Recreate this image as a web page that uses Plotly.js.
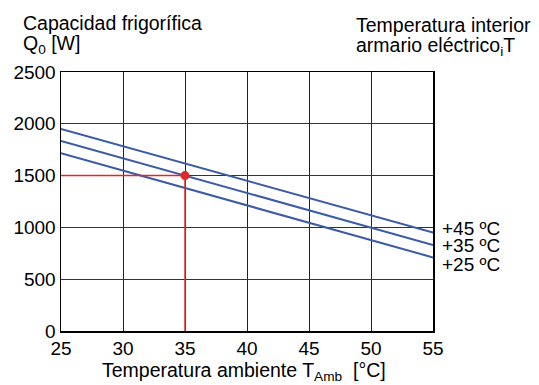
<!DOCTYPE html>
<html><head><meta charset="utf-8">
<script src="https://cdn.plot.ly/plotly-3.0.1.min.js"></script>
<style>body{margin:0;background:#fff}#c{width:539px;height:385px}</style>
</head><body><div id="c"></div>
<script>
const ambientTemp = [25, 55];
const seriesNames = ['+45 ºC', '+35 ºC', '+25 ºC'];
const q45 = [1950, 950];
const q35 = [1835, 830];
const q25 = [1715, 710];
const refX = [25, 35, 35];
const refY = [1500, 1500, 0];
const pointX = [35];
const pointY = [1500];
const xTicks = [25, 30, 35, 40, 45, 50, 55];
const yTicks = [0, 500, 1000, 1500, 2000, 2500];

const blue = '#3a5ba8';
const red = '#e0282a';
const font = '"Liberation Sans", Arial, sans-serif';
const FS = 19;
const TS = 19.5;
const series = [q45, q35, q25];
const traces = series.map((s, i) => ({
  x: ambientTemp, y: s, mode: 'lines', name: seriesNames[i],
  line: {color: blue, width: 2}, hoverinfo: 'skip'
}));
traces.push({x: refX, y: refY, mode: 'lines', line: {color: red, width: 1.5}});
traces.push({x: pointX, y: pointY, mode: 'markers', marker: {color: red, size: 9}});

const labelShift = [4, 0, -7];
const annotations = series.map((s, i) => ({
  x: ambientTemp[1], y: s[1], xref: 'x', yref: 'y', text: seriesNames[i],
  showarrow: false, xanchor: 'left', yanchor: 'middle', xshift: 7, yshift: labelShift[i],
  font: {family: font, size: FS, color: '#000'}
}));
const txt = (text, x, xs, ys, xa) => ({
  xref: 'paper', yref: 'paper', x: x, y: 1, xanchor: xa, yanchor: 'middle',
  xshift: xs, yshift: ys, showarrow: false, text: text,
  font: {family: font, size: TS, color: '#000'}
});
annotations.push(
  txt('Capacidad frigorífica', 0, -40, 49, 'left'),
  txt('Q<sub>0</sub> [W]', 0, -40, 28, 'left'),
  txt('Temperatura interior', 1, -79, 47, 'left'),
  txt('armario eléctrico<sub>i</sub>T', 1, -79, 26, 'left'),
  {xref: 'paper', yref: 'paper', x: 0.5, y: 0, xanchor: 'center', yanchor: 'middle',
   xshift: -3, yshift: -40, showarrow: false,
   text: 'Temperatura ambiente T<sub>Amb</sub>  [°C]', font: {family: font, size: TS, color: '#000'}}
);

const layout = {
  width: 539, height: 385,
  margin: {l: 61, r: 106, t: 72, b: 54},
  paper_bgcolor: '#fff', plot_bgcolor: '#fff',
  showlegend: false,
  font: {family: font, size: FS, color: '#000'},
  xaxis: {
    range: [25, 55], tickvals: xTicks, ticks: '', showgrid: true, gridcolor: '#222', gridwidth: 1,
    showline: true, linecolor: '#000', linewidth: 1.5, mirror: true, zeroline: false,
    tickfont: {size: FS}, ticklabelstandoff: 0
  },
  yaxis: {
    range: [0, 2500], tickvals: yTicks, ticks: '', showgrid: true, gridcolor: '#333', gridwidth: 1,
    showline: true, linecolor: '#000', linewidth: 1.5, mirror: true, zeroline: false,
    tickfont: {size: FS}
  },
  annotations: annotations
};
Plotly.newPlot('c', traces, layout, {staticPlot: true, displayModeBar: false});
</script></body></html>
